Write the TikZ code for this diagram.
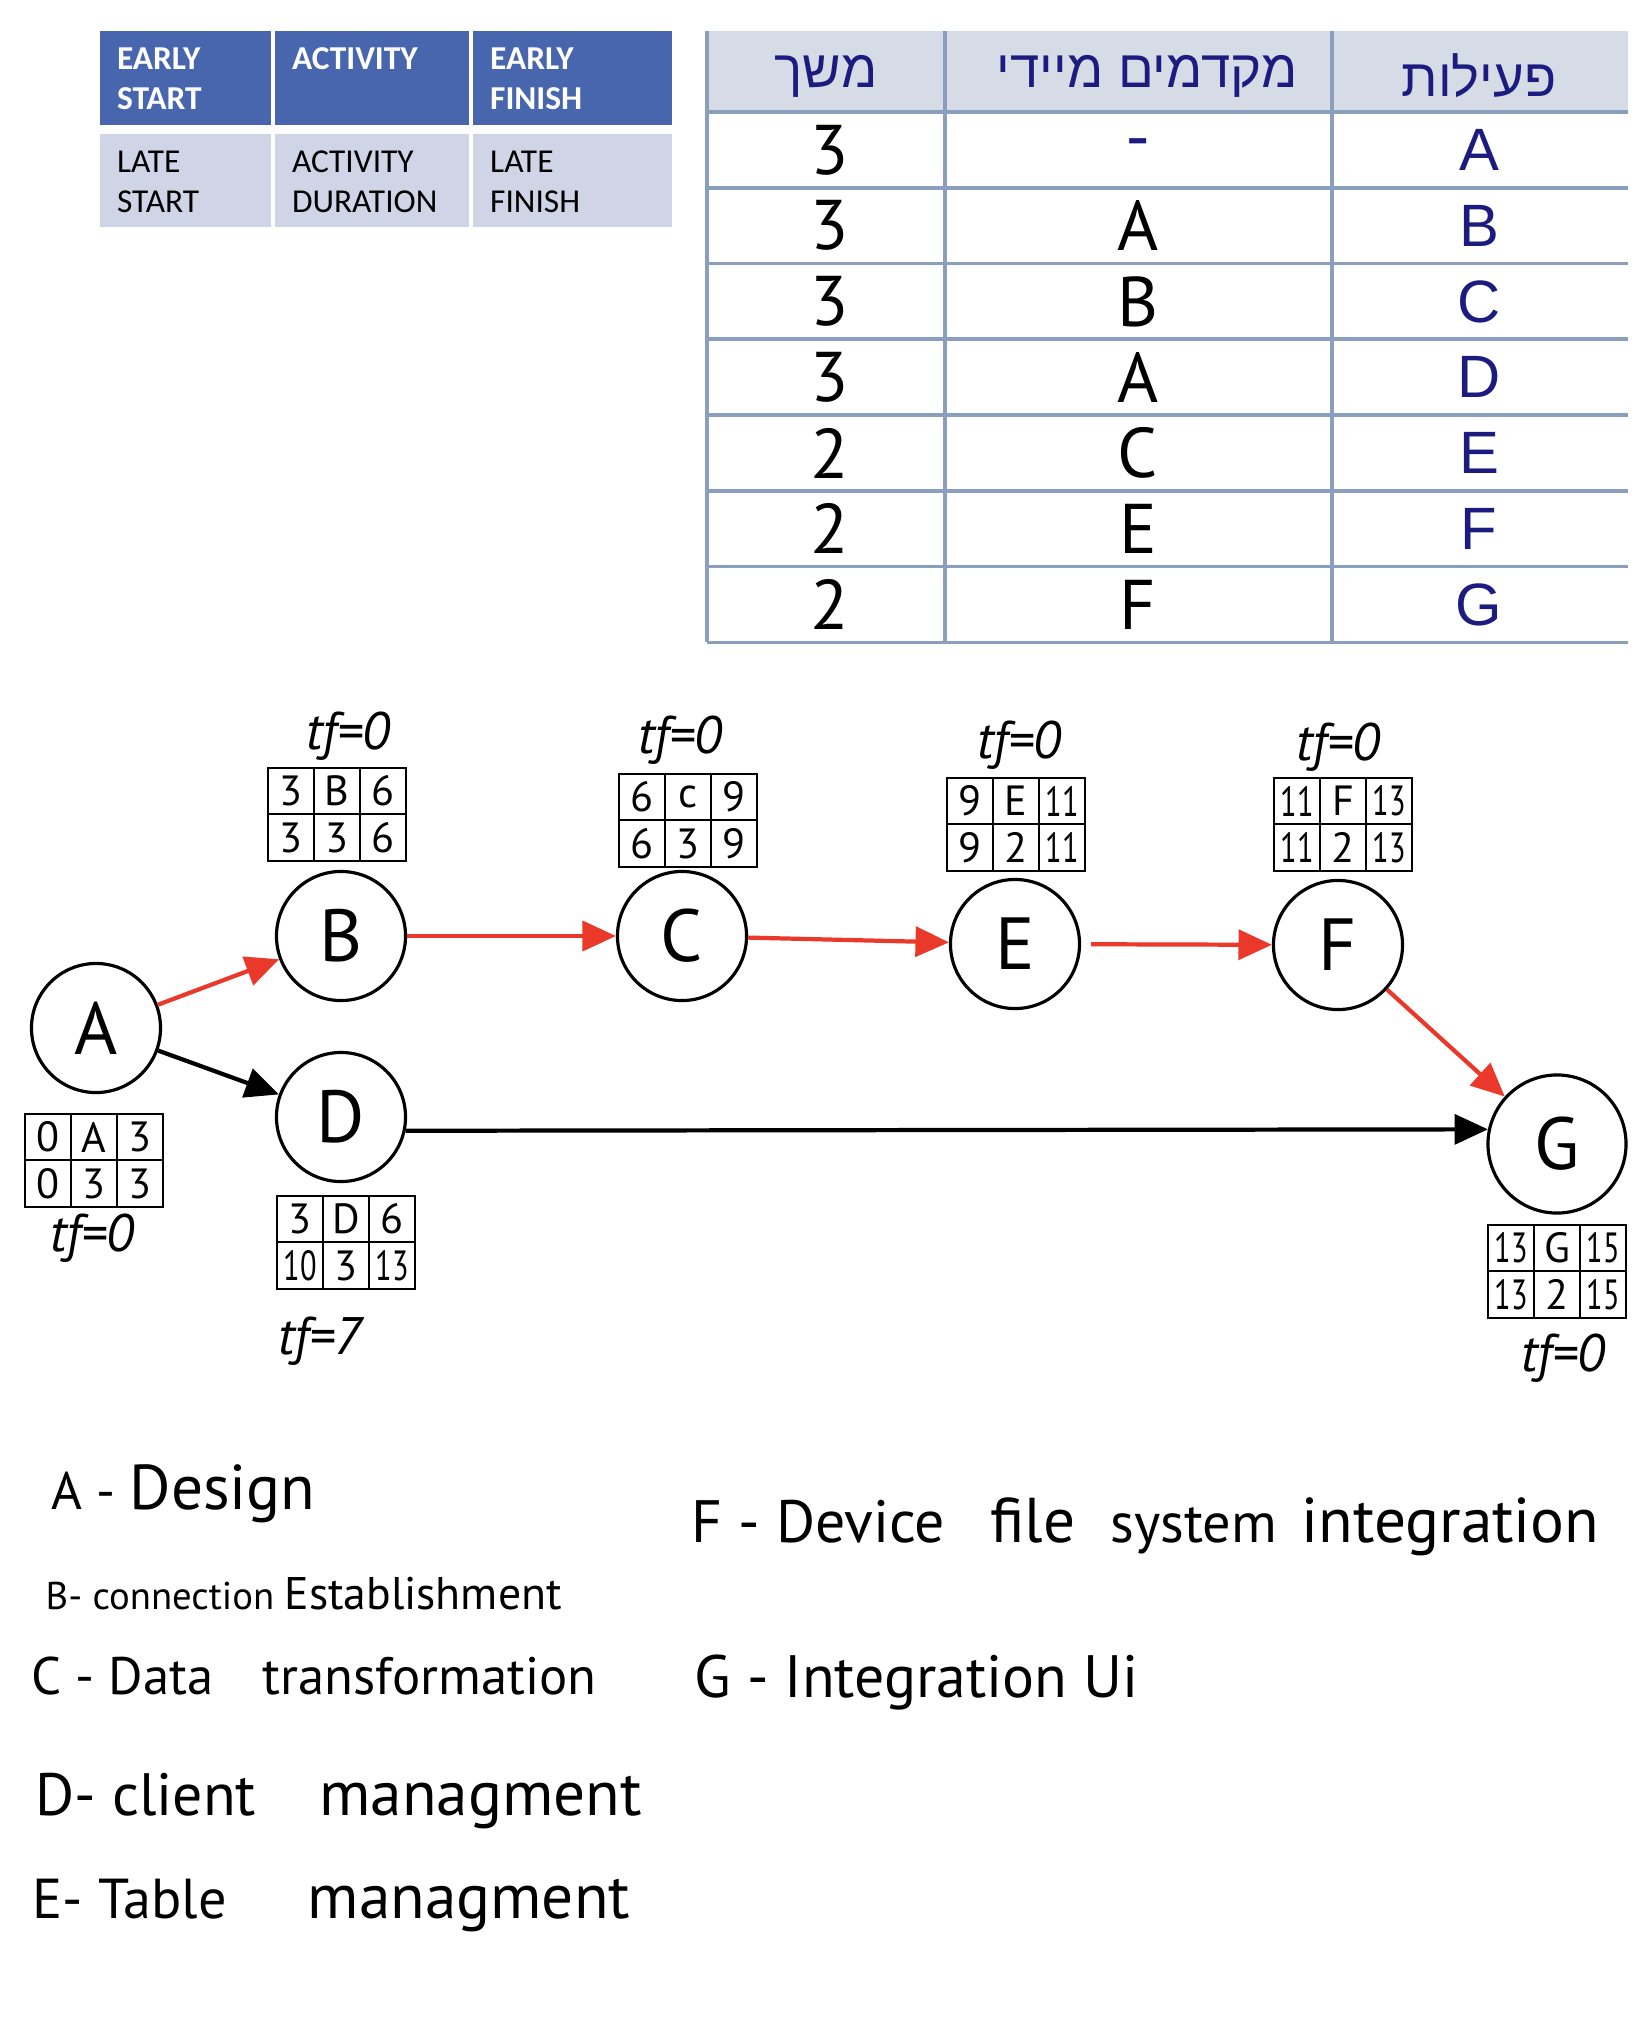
\documentclass[tikz,border=0pt]{standalone}
\usepackage{fontspec}
\usepackage{graphicx}
\setmainfont{Liberation Sans}
\newfontfamily\hebfont[Script=Hebrew]{Liberation Sans}
\newfontfamily\calfont{Carlito}
\newfontfamily\handfont{PT Sans}
\newcommand{\hsz}[1]{\handfont\fontsize{#1}{#1}\selectfont}
\newcommand{\nn}[1]{\scalebox{0.72}[1]{#1}}
\newcommand{\keytop}{\rule[-0.3\baselineskip]{0pt}{\dimexpr\baselineskip+2.2pt\relax}}
\usetikzlibrary{positioning,arrows.meta}
\TeXXeTstate=1

\definecolor{keyblue}{RGB}{72,102,174}
\definecolor{keygrey}{RGB}{207,213,230}
\definecolor{ruleblue}{RGB}{138,158,190}
\definecolor{headgrey}{RGB}{214,220,230}
\definecolor{navy}{RGB}{28,28,128}
\definecolor{critred}{RGB}{234,57,42}

\tikzset{
	keyhead/.style={rectangle, fill=keyblue, text=white, font={\calfont\bfseries\fontsize{9.5}{11.4}\selectfont}, align=left, minimum height=0.94cm, inner xsep=0.17cm, inner ysep=0pt, outer sep=0pt},
	keybody/.style={keyhead, fill=keygrey, text=black, font={\calfont\fontsize{9.5}{11.4}\selectfont}, minimum height=0.93cm},
	event/.style={circle, draw, line width=0.9pt, minimum size=1.29cm, inner sep=0pt, font={\hsz{21}}},
	cell/.style={rectangle, draw, line width=0.6pt, minimum width=0.46cm, minimum height=0.465cm, inner sep=0pt, outer sep=0pt, font={\hsz{12}}},
	slack/.style={font={\hsz{15}\itshape}},
	crit/.style={draw=critred, line width=1.2pt, -{Triangle[length=9.5pt,width=8.5pt]}},
	flow/.style={draw=black, line width=1.2pt, -{Triangle[length=9.5pt,width=8.5pt]}},
	tabrule/.style={draw=ruleblue, line width=1pt},
	hebhead/.style={text=navy, font={\hebfont\fontsize{15}{18}\selectfont}},
	actname/.style={text=navy, font={\fontsize{17}{20}\selectfont}},
	handcell/.style={font={\hsz{20}}},
	legend/.style={anchor=base west, inner sep=0pt}
}

\newcommand{\actbox}[8]{%
	\node[cell] (#1es) at (#2) {#3};
	\node[cell, right=0pt of #1es] (#1nm) {#4};
	\node[cell, right=0pt of #1nm] (#1ef) {#5};
	\node[cell, below=0pt of #1es] (#1ls) {#6};
	\node[cell, right=0pt of #1ls] (#1du) {#7};
	\node[cell, right=0pt of #1du] (#1lf) {#8};
}

\begin{document}
\begin{tikzpicture}[x=0.01cm, y=-0.01cm]
	\useasboundingbox (0,0) rectangle (1640,2018);

	\node[keyhead, text width=1.37cm, anchor=north west] (keyes) at (100,31) {EARLY\keytop\\START\strut};
	\node[keyhead, text width=1.60cm, right=0.04cm of keyes] (keyact) {ACTIVITY\keytop\\\strut};
	\node[keyhead, text width=1.65cm, right=0.04cm of keyact] (keyef) {EARLY\keytop\\FINISH\strut};
	\node[keybody, text width=1.37cm, below=0.09cm of keyes] (keyls) {LATE\keytop\\START\strut};
	\node[keybody, text width=1.60cm, below=0.09cm of keyact] (keydur) {ACTIVITY\keytop\\DURATION\strut};
	\node[keybody, text width=1.65cm, below=0.09cm of keyef] (keylf) {LATE\keytop\\FINISH\strut};

	\fill[headgrey] (707,31) rectangle (1628,112);
	\foreach \y in {112,187.75,263.5,339.25,415,490.75,566.5,642.25}
		\draw[tabrule] (707,\y) -- (1628,\y);
	\foreach \x in {707,945,1332}
		\draw[tabrule] (\x,31) -- (\x,642.25);
	\node[hebhead] (hdur) at (826,76) {\beginR משך\endR};
	\node[hebhead] (hpre) at (1147,76) {\beginR מקדמים מיידי\endR};
	\node[hebhead] (hact) at (1479,76) {\beginR פעילות\endR};
	\foreach \act/\pre/\dur [count=\i from 0] in {A/\textcolor{navy}{-}/3, B/A/3, C/B/3, D/A/3, E/C/2, F/E/2, G/F/2} {
		\node[actname] (act\act) at (1479,150+75.75*\i) {\act};
		\node[handcell] (pre\act) at (1138,150+75.75*\i) {\pre};
		\node[handcell] (dur\act) at (830,150+75.75*\i) {\dur};
	}

	\node[event] (A) at (96,1028) {A};
	\node[event] (B) at (341,936) {B};
	\node[event] (C) at (682,936) {C};
	\node[event] (D) at (341,1117) {D};
	\node[event] (E) at (1015,944) {E};
	\node[event] (F) at (1338,945) {F};
	\node[event, minimum size=1.38cm] (G) at (1557,1144) {G};

	\actbox{A}{48,1137}{0}{A}{3}{0}{3}{3}
	\actbox{B}{291,791}{3}{B}{6}{3}{3}{6}
	\actbox{C}{642,797}{6}{c}{9}{6}{3}{9}
	\actbox{D}{300,1219}{3}{D}{6}{\nn{10}}{3}{\nn{13}}
	\actbox{E}{970,801}{9}{E}{\nn{11}}{9}{2}{\nn{11}}
	\actbox{F}{1297,801}{\nn{11}}{F}{\nn{13}}{\nn{11}}{2}{\nn{13}}
	\actbox{G}{1511,1248}{\nn{13}}{G}{\nn{15}}{\nn{13}}{2}{\nn{15}}

	\node[slack] (tfA) at (92,1238) {tf=0};
	\node[slack] (tfB) at (348,736) {tf=0};
	\node[slack] (tfC) at (680,740) {tf=0};
	\node[slack] (tfD) at (320,1341) {tf=7};
	\node[slack] (tfE) at (1019,745) {tf=0};
	\node[slack] (tfF) at (1338,747) {tf=0};
	\node[slack] (tfG) at (1563,1358) {tf=0};

	\draw[crit] (A) -- (B);
	\draw[flow] (A) -- (D);
	\draw[crit] (B) -- (C);
	\draw[crit] (C) -- (E);
	\draw[crit, shorten <=0.1cm] (E) -- (F);
	\draw[crit] (F) -- (G);
	\draw[flow] (D.-12) -- (G.168);

	\node[legend] (legA) at (51,1509) {{\hsz{15}A - }{\hsz{18}Design}};
	\node[legend] (legB) at (45,1609) {{\hsz{11}B- connection }{\hsz{13}Establishment}};
	\node[legend] (legC) at (31,1694) {\hsz{15}C - Data\hspace{10pt} transformation};
	\node[legend] (legD) at (35,1815) {{\hsz{17}D- client}\hspace{18pt}{\hsz{18}managment}};
	\node[legend] (legE) at (32,1918) {{\hsz{16}E- Table}\hspace{23pt}{\hsz{18}managment}};
	\node[legend] (legF) at (691,1542) {{\hsz{17}F - Device}\hspace{13pt}{\hsz{18}file}\hspace{10pt}{\hsz{16}system}\hspace{7pt}{\hsz{18}integration}};
	\node[legend] (legG) at (694,1697) {\hsz{17}G - Integration Ui};
\end{tikzpicture}
\end{document}
